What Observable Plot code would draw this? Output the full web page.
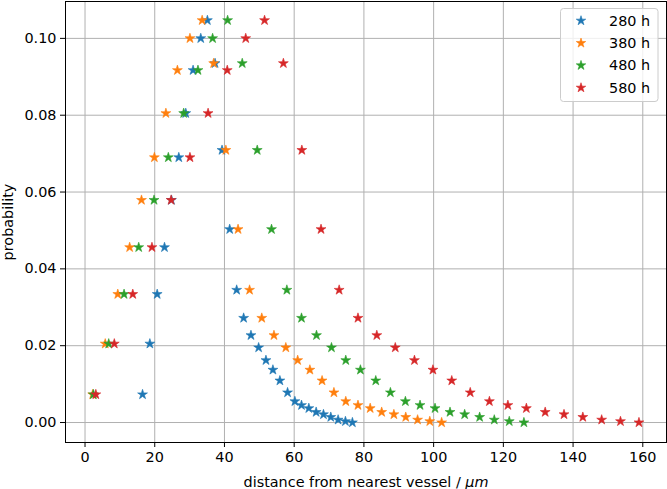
<!DOCTYPE html>
<html><head><meta charset="utf-8">
<script src="https://cdn.jsdelivr.net/npm/d3@7"></script>
<script src="https://cdn.jsdelivr.net/npm/@observablehq/plot@0.6"></script>
<style>body{margin:0;background:#fff} svg{display:block}</style>
</head><body><div id="chart"></div>
<script>
const seriesNames = ["280 h", "380 h", "480 h", "580 h"];
const seriesColors = ["#1f77b4", "#ff7f0e", "#2ca02c", "#d62728"];
const probability = [0.0073, 0.0205, 0.0334, 0.0456, 0.0579, 0.0690, 0.0805, 0.0917, 0.1000, 0.1047,
  0.0935, 0.0709, 0.0503, 0.0345, 0.0272, 0.0227, 0.0195, 0.0162, 0.0137, 0.0109,
  0.0078, 0.0055, 0.0045, 0.0037, 0.0027, 0.0021, 0.0014, 0.0007, 0.0003, 0.0];
const dist280 = [16.5, 18.6, 20.7, 22.8, 24.8, 26.9, 28.9, 31.0, 33.2, 35.1, 37.3, 39.3, 41.5, 43.5, 45.5,
  47.6, 49.8, 51.9, 53.9, 55.9, 58.1, 60.2, 62.1, 64.2, 66.3, 68.4, 70.5, 72.6, 74.7, 76.7];
const dist380 = [2.2, 5.8, 9.4, 12.8, 16.2, 19.9, 23.2, 26.5, 30.1, 33.6, 36.9, 40.4, 43.9, 47.2, 50.7,
  54.2, 57.6, 61.0, 64.5, 68.0, 71.4, 74.8, 78.3, 81.8, 85.1, 88.6, 92.0, 95.4, 98.9, 102.3];
const dist480 = [2.4, 6.8, 11.2, 15.4, 19.8, 23.9, 28.3, 32.4, 36.6, 40.9, 45.1, 49.4, 53.5, 57.9, 62.1,
  66.4, 70.7, 74.8, 79.0, 83.4, 87.6, 91.9, 96.1, 100.4, 104.7, 108.9, 113.2, 117.4, 121.7, 125.9];
const dist580 = [3.1, 8.4, 13.7, 19.2, 24.7, 30.1, 35.3, 40.8, 46.1, 51.5, 56.9, 62.2, 67.7, 72.9, 78.3,
  83.7, 89.0, 94.5, 99.8, 105.2, 110.5, 116.0, 121.3, 126.6, 132.0, 137.4, 142.8, 148.2, 153.6, 158.9];
const xTicks = [0, 20, 40, 60, 80, 100, 120, 140, 160];
const yTicks = [0, 0.02, 0.04, 0.06, 0.08, 0.10];

const rows = [];
[dist280, dist380, dist480, dist580].forEach((d, s) =>
  d.forEach((x, i) => rows.push({series: seriesNames[s], distance: x, probability: probability[i]})));

const FONT = "DejaVu Sans";
const chart = Plot.plot({
  width: 667, height: 489,
  marginLeft: 65, marginRight: 1, marginTop: 1, marginBottom: 47,
  style: {fontFamily: FONT, fontSize: "14.4px", background: "#fff", color: "#000"},
  x: {domain: [-5.6, 166.8]},
  y: {domain: [-0.0052, 0.1096]},
  color: {domain: seriesNames, range: seriesColors},
  marks: [
    Plot.gridX(xTicks, {stroke: "#b0b0b0", strokeOpacity: 1, strokeWidth: 1}),
    Plot.gridY(yTicks, {stroke: "#b0b0b0", strokeOpacity: 1, strokeWidth: 1}),
    Plot.dot(rows, {x: "distance", y: "probability", fill: "series", stroke: "series", strokeWidth: 0.6, symbol: "star", r: 3.1}),
    Plot.frame({stroke: "#000", strokeWidth: 1}),
    Plot.axisX(xTicks, {tickSize: 5, tickPadding: 4, fontSize: 14.4, label: "distance from nearest vessel / μm", labelAnchor: "center", labelArrow: "none", labelOffset: 44}),
    Plot.axisY(yTicks, {tickSize: 5, tickPadding: 4, fontSize: 14.4, tickFormat: d3.format(".2f"), label: "probability", labelAnchor: "center", labelArrow: "none", labelOffset: 63})
  ]
});
document.getElementById("chart").append(chart);

const svg = d3.select(chart);
svg.selectAll("text").each(function () {
  if (this.textContent.includes("μm")) {
    const base = this.textContent.replace("μm", "");
    this.textContent = base;
    d3.select(this).append("tspan").attr("font-style", "italic").text("μm");
  }
});

// legend
const lg = svg.append("g").attr("font-family", FONT).attr("font-size", "14.4px").attr("text-anchor", "start");
lg.append("rect").attr("x", 560.5).attr("y", 8.5).attr("width", 97.5).attr("height", 93)
  .attr("rx", 3).attr("fill", "#fff").attr("fill-opacity", 0.8).attr("stroke", "#cccccc");
const star = d3.symbol(d3.symbolStar, Math.PI * 9)();
seriesNames.forEach((name, i) => {
  const cy = 20.7 + i * 22.35;
  lg.append("path").attr("d", star).attr("transform", `translate(581,${cy})`)
    .attr("fill", seriesColors[i]).attr("stroke", seriesColors[i]).attr("stroke-width", 0.6);
  lg.append("text").attr("x", 609).attr("y", cy).attr("dy", "0.35em").attr("fill", "#000")
    .attr("text-anchor", "start").text(name);
});
</script>
</body></html>
